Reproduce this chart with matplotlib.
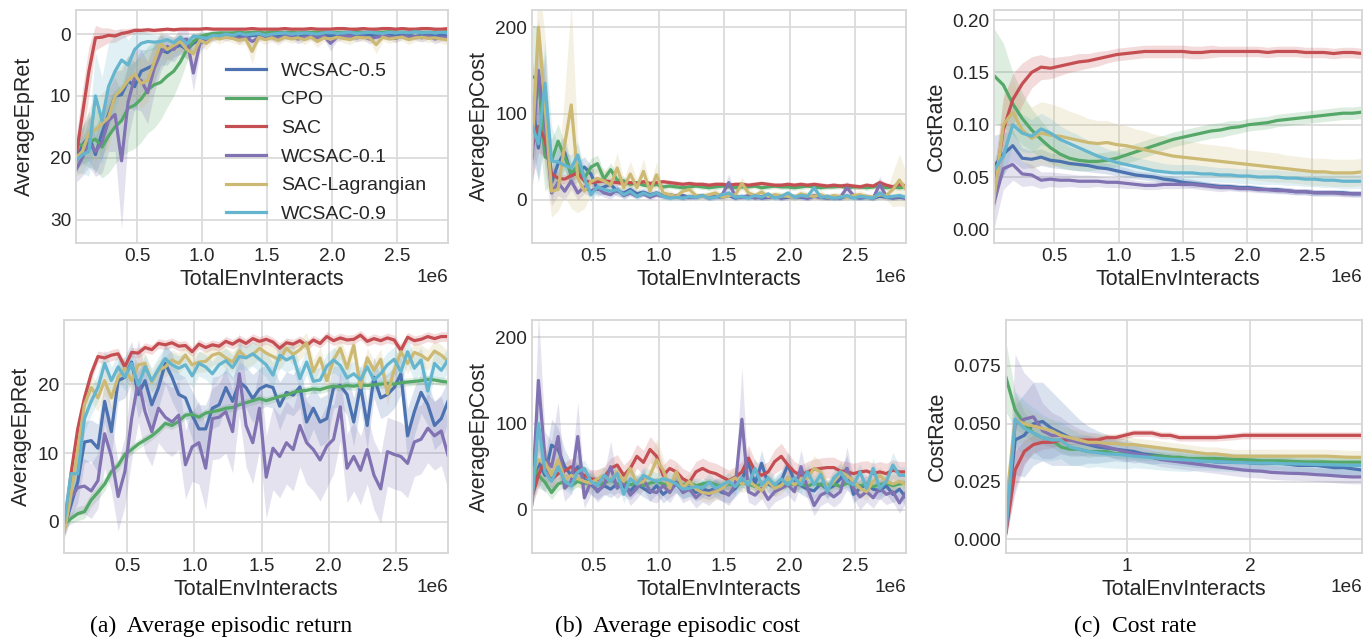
import numpy as np
import matplotlib
matplotlib.use("Agg")
import matplotlib.pyplot as plt
from matplotlib.ticker import FuncFormatter, FormatStrFormatter

# ---------------- data ----------------
labels = ["WCSAC-0.5", "CPO", "SAC", "WCSAC-0.1", "SAC-Lagrangian", "WCSAC-0.9"]
colors = ["#4C72B0", "#55A868", "#C44E52", "#8172B2", "#CCB974", "#64B5CD"]

# epoch grids (TotalEnvInteracts)
x_noisy = np.linspace(0.03e6, 2.89e6, 58)
x_rate_top = np.linspace(0.03e6, 2.89e6, 40)
x_rate_bot = np.linspace(0.02e6, 2.91e6, 40)

# ---- (a) top: AverageEpRet (values negative) ----
ret1_wc05 = [-20.5, -18, -16.5, -19.5, -16, -13, -10, -9.8, -7.5, -8.5,
             -6, -5.5, -5, -2.5, -3, -2.2, -1.8, -2.5, -1.5, -0.8,
             -0.6, -0.4, -0.3, -0.2, -0.4, -0.3, -0.6, -0.2, -0.3, -0.5,
             -0.2, -0.4, -0.3, -0.2, -0.5, -0.3, -0.2, -0.4, -0.2, -0.3,
             -0.1, -0.3, -0.2, -0.4, -0.1, -0.2, -0.3, -0.1, -0.2, -0.3,
             -0.1, -0.2, -0.4, -0.2, -0.1, -0.3, -0.2, -0.3]
ret1_cpo = [-17.8, -18, -17.5, -17, -18.3, -16.5, -15, -14, -12, -11.5,
            -10.5, -9, -8.2, -7.8, -6.8, -6, -4.5, -2.5, -1.2, -0.4,
            -0.1, 0.1, 0.2, 0.2, 0.2, 0.3, 0.2, 0.3, 0.3, 0.2,
            0.3, 0.3, 0.3, 0.3, 0.2, 0.3, 0.3, 0.3, 0.3, 0.3,
            0.3, 0.3, 0.3, 0.4, 0.3, 0.3, 0.3, 0.3, 0.4, 0.3,
            0.3, 0.3, 0.4, 0.3, 0.3, 0.3, 0.3, 0.4]
ret1_sac = [-20, -13, -6, -0.6, -0.5, -0.2, -0.3, 0.1, 0.3, 0.6,
            0.6, 0.7, 0.6, 0.7, 0.8, 0.7, 0.8, 0.8, 0.8, 0.8,
            0.9, 0.8, 0.8, 0.8, 0.8, 0.8, 0.8, 0.9, 0.8, 0.8,
            0.8, 0.8, 0.9, 0.8, 0.8, 0.8, 0.9, 0.8, 0.8, 0.8,
            0.9, 0.9, 0.8, 0.8, 0.9, 0.8, 0.8, 0.9, 0.9, 0.8,
            0.9, 0.8, 0.8, 0.9, 0.9, 0.8, 0.8, 0.9]
ret1_wc01 = [-22, -20, -17.5, -19, -17.5, -14, -13, -20.5, -11, -7,
             -7.5, -9.5, -5.5, -3, -2, -2.5, -1, -0.8, -6.3, -1.5,
             -0.8, -0.5, -0.3, -0.5, -0.3, -0.8, -0.4, -1.2, -0.6, -0.3,
             -0.5, -0.7, -0.4, -0.3, -0.8, -0.5, -0.4, -0.6, -0.3, -1.5,
             -0.5, -0.4, -0.3, -0.6, -0.4, -0.8, -0.5, -0.3, -0.4, -0.7,
             -0.3, -0.5, -0.4, -0.6, -0.3, -0.8, -0.5, -0.6]
ret1_sacl = [-20, -19, -16, -15.5, -14.5, -13.5, -10, -9, -7.5, -6.5,
             -8, -7.5, -4.5, -1.5, -2.5, -1.8, -1.2, -2.5, -3.2, -1,
             -1.5, -0.5, -0.8, -0.5, -0.7, -1.0, -0.8, -2.8, -0.5, -0.9,
             -0.6, -1.0, -0.5, -0.8, -0.6, -0.9, -0.5, -1.2, -0.6, -0.8,
             -0.5, -0.7, -0.9, -0.5, -0.6, -0.6, -1.7, -0.5, -0.8, -0.6,
             -0.5, -0.9, -0.6, -0.5, -0.7, -0.6, -0.8, -0.9]
ret1_wc09 = [-20.5, -19.5, -19, -10, -14, -8.5, -6, -4.2, -5, -2.5,
             -1.5, -1.2, -1.3, -1.2, -0.9, -1.4, -0.5, -1.6, -0.3, -0.5,
             -0.7, -0.2, -0.3, 0, -0.2, 0.1, -0.1, 0, 0.1, -0.2,
             0, 0.1, 0.2, 0, 0.1, 0.2, 0.1, 0, 0.2, 0.3,
             0.1, 0.2, 0.3, 0.1, 0.2, 0.3, 0.2, 0.1, 0.3, 0.2,
             0.3, 0.2, 0.4, 0.2, 0.3, 0.2, 0.3, 0.2]

ret1_wc05_sd = [1.5, 3, 4, 3, 4, 4, 4, 4, 4, 4,
                3.5, 3, 3, 2.5, 2, 1.5, 1.5, 1.5, 1.2, 1,
                0.8, 0.6, 0.5, 0.4, 0.5, 0.4, 0.6, 0.4, 0.4, 0.5,
                0.4, 0.5, 0.4, 0.4, 0.5, 0.4, 0.4, 0.5, 0.4, 0.4,
                0.4, 0.5, 0.4, 0.5, 0.4, 0.4, 0.5, 0.4, 0.4, 0.5,
                0.4, 0.4, 0.5, 0.4, 0.4, 0.5, 0.4, 0.4]
ret1_cpo_sd = [1, 3, 4, 5, 5, 6, 6, 6, 7, 7,
               7, 7, 7, 6, 5, 4, 3, 2, 1.2, 0.8,
               0.5, 0.4, 0.3, 0.3, 0.3, 0.3, 0.3, 0.3, 0.3, 0.3,
               0.3, 0.3, 0.3, 0.3, 0.3, 0.3, 0.3, 0.3, 0.3, 0.3,
               0.3, 0.3, 0.3, 0.3, 0.3, 0.3, 0.3, 0.3, 0.3, 0.3,
               0.3, 0.3, 0.3, 0.3, 0.3, 0.3, 0.3, 0.3]
ret1_sac_sd = [3, 4, 4, 2, 1.5, 1.2, 1, 0.8, 0.6, 0.5,
               0.4, 0.4, 0.3, 0.3, 0.3, 0.3, 0.3, 0.3, 0.3, 0.3,
               0.3, 0.3, 0.3, 0.3, 0.3, 0.3, 0.3, 0.3, 0.3, 0.3,
               0.3, 0.3, 0.3, 0.3, 0.3, 0.3, 0.3, 0.3, 0.3, 0.3,
               0.3, 0.3, 0.3, 0.3, 0.3, 0.3, 0.3, 0.3, 0.3, 0.3,
               0.3, 0.3, 0.3, 0.3, 0.3, 0.3, 0.3, 0.3]
ret1_wc01_sd = [2, 3, 4, 4, 5, 5, 6, 11, 6, 5,
                5, 5, 4, 3, 2, 2, 2, 2, 3, 1.5,
                0.8, 0.6, 0.5, 0.6, 0.5, 0.8, 0.5, 1.0, 0.6, 0.5,
                0.6, 0.7, 0.5, 0.5, 0.8, 0.6, 0.5, 0.7, 0.5, 1.2,
                0.6, 0.5, 0.5, 0.7, 0.5, 0.8, 0.6, 0.5, 0.5, 0.7,
                0.5, 0.6, 0.5, 0.7, 0.5, 0.8, 0.6, 0.7]
ret1_sacl_sd = [3, 3.5, 4, 5, 5, 5, 4, 4, 4, 4,
                4, 3.5, 3, 2, 2, 1.5, 1.5, 1.5, 2, 1,
                1, 0.7, 0.8, 0.6, 0.7, 0.8, 0.8, 2, 0.6, 0.8,
                0.6, 0.8, 0.6, 0.7, 0.6, 0.8, 0.6, 1.0, 0.6, 0.7,
                0.6, 0.7, 0.8, 0.6, 0.6, 0.6, 1.5, 0.6, 0.7, 0.6,
                0.6, 0.8, 0.6, 0.6, 0.7, 0.6, 0.7, 0.8]
ret1_wc09_sd = [2, 3, 4, 7, 7, 7, 6, 5, 4, 3,
                2, 1.5, 1.2, 1, 0.8, 0.8, 0.6, 0.8, 0.5, 0.5,
                0.5, 0.4, 0.4, 0.3, 0.3, 0.3, 0.3, 0.3, 0.3, 0.3,
                0.3, 0.3, 0.3, 0.3, 0.3, 0.3, 0.3, 0.3, 0.3, 0.3,
                0.3, 0.3, 0.3, 0.3, 0.3, 0.3, 0.3, 0.3, 0.3, 0.3,
                0.3, 0.3, 0.3, 0.3, 0.3, 0.3, 0.3, 0.3]

# ---- (a) bottom: AverageEpRet ----
ret2_wc05 = [-0.9, 2.5, 5.8, 11.6, 11.8, 10.7, 17.5, 13.1, 20.5, 21.0,
             23.2, 18.5, 20.5, 17.0, 19.5, 23.0, 21.0, 18.5, 18.0, 15.5,
             13.5, 13.5, 16.5, 17.0, 19.5, 17.5, 20.3, 19.5, 17.9, 19.3,
             19.8, 19.5, 16.8, 18.8, 18.4, 19.6, 14.5, 16.5, 14.5, 15.0,
             19.5, 19.8, 18.5, 14.5, 19.8, 14.0, 21.0, 18.0, 18.5, 19.5,
             21.5, 12.5, 16.0, 18.8, 17.0, 14.0, 15.0, 17.5]
ret2_cpo = [-0.3, 0.5, 1.2, 1.5, 3.2, 4.3, 5.5, 7.3, 8.2, 9.8,
            10.5, 11.3, 11.9, 12.5, 13.3, 14.3, 14.0, 14.6, 15.5, 15.6,
            15.2, 15.8, 16.0, 16.2, 16.5, 16.6, 17.0, 17.3, 17.6, 17.9,
            17.6, 17.9, 18.2, 18.4, 18.8, 19.0, 19.1, 19.3, 19.2, 19.5,
            19.7, 19.6, 19.8, 19.7, 19.9, 19.8, 19.9, 20.0, 20.1, 20.0,
            20.2, 20.3, 20.4, 20.5, 20.7, 20.6, 20.4, 20.3]
ret2_sac = [-1.0, 7, 13.5, 18, 21.5, 24, 23.8, 24.2, 24.4, 22.5,
            24.6, 24.5, 25.3, 25.0, 25.9, 25.7, 26.0, 25.5, 25.6, 24.7,
            25.8, 25.3, 25.7, 25.5, 26.2, 25.8, 26.4, 25.9, 26.6, 26.2,
            26.5, 26.1, 25.2, 26.0, 25.8, 26.3, 25.6, 26.4, 25.9, 26.9,
            26.3, 26.7, 26.4, 26.5, 27.1, 26.2, 26.6, 26.3, 26.7, 26.4,
            24.9, 26.8, 26.3, 26.5, 26.9, 26.6, 26.9, 26.9]
ret2_wc01 = [-0.9, 3.5, 5.0, 5.2, 4.5, 6.0, 12.8, 9.5, 3.7, 7.3,
             15.0, 20.5, 16.0, 13.1, 16.5, 15.2, 14.5, 15.5, 8.3, 10.9,
             11.5, 7.8, 15.0, 15.2, 16.0, 13.1, 21.5, 14.0, 11.5, 16.5,
             6.5, 10.7, 9.5, 11.5, 10.5, 14.0, 11.5, 10.5, 9.0, 11.0,
             12.0, 16.7, 7.8, 9.5, 7.5, 10.5, 6.8, 4.8, 10.2, 9.8,
             9.5, 8.5, 11.6, 12.0, 13.6, 12.5, 13.2, 9.7]
ret2_sacl = [-1.5, 4, 10.5, 17, 19.5, 18, 20.5, 18, 21, 22.3,
             20.5, 22.8, 23, 20.3, 22, 22.5, 23.5, 23, 24.2, 22.8,
             23.2, 23.3, 24.2, 24.5, 23.8, 23.2, 24.8, 23.9, 24.3, 25.2,
             24.5, 24.0, 23.5, 25.2, 24.3, 25.0, 26.0, 21.8, 23.8, 20.5,
             23.5, 25.2, 22.3, 25.6, 19.5, 23.8, 22.0, 23.6, 18.6, 22.0,
             24.7, 23.0, 24.6, 24.2, 23.5, 24.8, 24.2, 23.3]
ret2_wc09 = [0, 7, 7, 15, 17.5, 19.5, 23, 20.5, 22.5, 21,
             23, 19.8, 22.5, 20.5, 22.2, 23.7, 22.8, 22.3, 22.8, 21.2,
             23, 22.5, 21.5, 22.8, 23.4, 22.4, 24.0, 23.8, 24.4, 23.6,
             22.8, 21.3, 24.2, 23.5, 24.0, 20.8, 23.2, 20.4, 20.6, 22.6,
             23.5, 22.7, 20.9, 21.5, 20.6, 22.5, 20.6, 21.5, 22.8, 23.6,
             21.8, 24.7, 22.3, 23.5, 19.0, 23.0, 22.0, 23.5]

ret2_wc05_sd = [1, 2, 3, 3, 3, 3.5, 3, 3.5, 3, 3,
                3, 3.5, 3, 3.5, 3, 3, 3.5, 3, 3, 3.5,
                3.5, 3.5, 3, 3, 3, 3.5, 3, 3, 3.5, 3,
                3, 3, 3.5, 3, 3, 3, 3.5, 3, 3.5, 3.5,
                3, 3, 3, 3.5, 3, 3.5, 3, 3, 3, 3,
                3, 4, 3.5, 3, 3, 3.5, 3.5, 3]
ret2_cpo_sd = [0.5, 0.8, 1.0, 1.0, 1.0, 1.0, 1.0, 0.8, 0.8, 0.8,
               0.7, 0.7, 0.7, 0.6, 0.6, 0.6, 0.6, 0.6, 0.6, 0.6,
               0.6, 0.6, 0.6, 0.6, 0.6, 0.6, 0.6, 0.6, 0.6, 0.6,
               0.6, 0.6, 0.6, 0.6, 0.6, 0.6, 0.6, 0.6, 0.6, 0.6,
               0.6, 0.6, 0.6, 0.6, 0.6, 0.6, 0.6, 0.6, 0.6, 0.6,
               0.6, 0.6, 0.6, 0.6, 0.6, 0.6, 0.6, 0.6]
ret2_sac_sd = [0.8, 1.5, 1.5, 1.2, 1, 0.8, 0.8, 0.8, 0.8, 0.8,
               0.7, 0.7, 0.7, 0.7, 0.7, 0.7, 0.7, 0.7, 0.7, 0.7,
               0.7, 0.7, 0.7, 0.7, 0.7, 0.7, 0.7, 0.7, 0.7, 0.7,
               0.7, 0.7, 0.8, 0.7, 0.7, 0.7, 0.7, 0.7, 0.7, 0.7,
               0.7, 0.7, 0.7, 0.7, 0.7, 0.7, 0.7, 0.7, 0.7, 0.7,
               0.8, 0.7, 0.7, 0.7, 0.7, 0.7, 0.7, 0.7]
ret2_wc01_sd = [1.5, 3, 4, 4, 4, 4, 5, 5, 5, 5,
                6, 6, 6, 5, 5, 5, 5, 5, 5, 5,
                6, 6, 6, 6, 6, 6, 6, 6, 6, 6,
                6, 6, 6, 6, 6, 6, 6, 6, 6, 6,
                5, 5, 5, 5, 5, 5, 5, 5, 5, 5,
                5, 5, 5, 5, 5, 5, 5, 5]
ret2_sacl_sd = [0.8, 1.5, 2, 2, 2, 2, 2, 1.8, 1.8, 1.5,
                1.5, 1.5, 1.5, 1.5, 1.5, 1.5, 1.5, 1.5, 1.5, 1.5,
                1.5, 1.5, 1.5, 1.5, 1.5, 1.5, 1.5, 1.5, 1.5, 1.5,
                1.5, 1.5, 1.5, 1.5, 1.5, 1.5, 1.5, 1.8, 1.5, 1.8,
                1.5, 1.5, 1.8, 1.5, 1.8, 1.5, 1.5, 1.5, 1.8, 1.5,
                1.5, 1.5, 1.5, 1.5, 1.5, 1.5, 1.5, 1.5]
ret2_wc09_sd = [0.8, 2, 2, 2, 2, 2, 2, 2, 2, 2,
                1.8, 1.8, 1.8, 1.8, 1.8, 1.8, 1.8, 1.8, 1.8, 1.8,
                1.8, 1.8, 1.8, 1.8, 1.8, 1.8, 1.8, 1.8, 1.8, 1.8,
                1.8, 1.8, 1.8, 1.8, 1.8, 1.8, 1.8, 1.8, 1.8, 1.8,
                1.8, 1.8, 1.8, 1.8, 1.8, 1.8, 1.8, 1.8, 1.8, 1.8,
                1.8, 1.8, 1.8, 1.8, 2.0, 1.8, 1.8, 1.8]

# ---- (b) top: AverageEpCost ----
cost1_wc05 = [118, 60, 120, 20, 42, 55, 28, 33, 38, 30,
              12, 15, 18, 10, 8, 12, 7, 9, 6, 8,
              5, 6, 4, 5, 3, 4, 5, 3, 4, 3,
              5, 2, 4, 3, 4, 2, 3, 4, 2, 3,
              4, 3, 2, 4, 3, 2, 3, 2, 4, 3,
              2, 3, 2, 4, 3, 2, 3, 2]
cost1_cpo = [143, 140, 50, 45, 68, 50, 30, 40, 25, 38,
             42, 24, 35, 23, 22, 18, 20, 17, 16, 18,
             15, 16, 15, 14, 15, 16, 15, 14, 15, 16,
             15, 14, 15, 15, 16, 14, 15, 16, 15, 15,
             14, 15, 16, 15, 14, 15, 15, 16, 14, 15,
             15, 14, 15, 16, 14, 15, 14, 15]
cost1_sac = [60, 85, 70, 30, 25, 24, 28, 31, 22, 20,
             21, 22, 21, 20, 19, 20, 19, 21, 19, 20,
             21, 20, 19, 18, 19, 18, 18, 17, 18, 18,
             17, 18, 18, 17, 18, 19, 18, 17, 17, 18,
             17, 18, 17, 18, 17, 16, 17, 16, 17, 16,
             15, 17, 16, 20, 17, 15, 18, 16]
cost1_wc01 = [48, 150, 90, 8, 20, 10, 22, 8, 15, 10,
              14, 8, 6, 12, 5, 8, 4, 7, 3, 6,
              4, 3, 5, 2, 4, 3, 5, 2, 4, 6,
              20, 4, 3, 5, 2, 4, 3, 5, 2, 6,
              3, 4, 2, 5, 3, 4, 2, 3, 14, 5,
              3, 4, 2, 18, 4, 3, 4, 2]
cost1_sacl = [55, 200, 110, 10, 12, 64, 110, 25, 10, 21,
              25, 22, 17, 37, 14, 30, 14, 33, 10, 29,
              8, 6, 4, 10, 12, 5, 4, 6, 8, 3,
              5, 6, 19, 8, 5, 9, 4, 6, 5, 4,
              3, 7, 5, 4, 6, 3, 5, 4, 3, 5,
              6, 4, 3, 6, 5, 12, 23, 12]
cost1_wc09 = [87, 65, 135, 45, 44, 40, 37, 52, 25, 6,
              15, 12, 10, 12, 6, 10, 4, 8, 5, 8,
              4, 2, 3, 2, 4, 3, 5, 2, 3, 6,
              8, 3, 4, 2, 5, 3, 7, 2, 4, 8,
              3, 5, 4, 14, 3, 4, 2, 3, 5, 2,
              4, 3, 2, 8, 3, 4, 5, 3]

cost1_wc05_sd = [50, 40, 50, 20, 20, 20, 12, 12, 12, 10,
                 8, 8, 8, 6, 5, 6, 4, 5, 4, 4,
                 3, 3, 3, 3, 3, 3, 3, 3, 3, 3,
                 3, 3, 3, 3, 3, 3, 3, 3, 3, 3,
                 3, 3, 3, 3, 3, 3, 3, 3, 3, 3,
                 3, 3, 3, 3, 3, 3, 3, 3]
cost1_cpo_sd = [60, 60, 40, 25, 20, 15, 12, 12, 10, 10,
                10, 8, 8, 6, 5, 4, 3, 3, 3, 3,
                3, 3, 3, 3, 3, 3, 3, 3, 3, 3,
                3, 3, 3, 3, 3, 3, 3, 3, 3, 3,
                3, 3, 3, 3, 3, 3, 3, 3, 3, 3,
                3, 3, 3, 3, 3, 3, 3, 3]
cost1_sac_sd = [40, 30, 20, 10, 6, 5, 5, 5, 4, 4,
                3, 3, 3, 3, 3, 3, 3, 3, 3, 3,
                3, 3, 3, 3, 3, 3, 3, 3, 3, 3,
                3, 3, 3, 3, 3, 3, 3, 3, 3, 3,
                3, 3, 3, 3, 3, 3, 3, 3, 3, 3,
                3, 3, 3, 4, 3, 3, 3, 3]
cost1_wc01_sd = [40, 60, 50, 15, 15, 10, 10, 8, 8, 6,
                 6, 5, 5, 5, 4, 4, 3, 3, 3, 3,
                 3, 3, 3, 3, 3, 3, 3, 3, 3, 4,
                 10, 3, 3, 3, 3, 3, 3, 3, 3, 4,
                 3, 3, 3, 3, 3, 3, 3, 3, 8, 3,
                 3, 3, 3, 10, 3, 3, 3, 3]
cost1_sacl_sd = [30, 60, 80, 30, 25, 60, 120, 40, 20, 15,
                 12, 15, 12, 18, 10, 15, 10, 15, 8, 15,
                 6, 5, 4, 5, 6, 4, 4, 4, 5, 4,
                 4, 4, 8, 5, 4, 5, 4, 4, 4, 4,
                 4, 5, 4, 4, 5, 4, 4, 4, 4, 4,
                 5, 4, 4, 5, 5, 20, 30, 20]
cost1_wc09_sd = [40, 40, 50, 40, 20, 15, 15, 15, 10, 8,
                 8, 6, 6, 5, 5, 4, 4, 3, 3, 3,
                 3, 3, 3, 3, 3, 3, 3, 3, 3, 3,
                 3, 3, 3, 3, 3, 3, 3, 3, 3, 3,
                 3, 3, 3, 6, 3, 3, 3, 3, 3, 3,
                 3, 3, 3, 3, 3, 3, 3, 3]

# ---- (b) bottom: AverageEpCost ----
cost2_wc05 = [20, 55, 40, 75, 70, 50, 40, 50, 35, 30,
              22, 28, 24, 30, 27, 22, 30, 25, 20, 28,
              18, 24, 30, 22, 26, 20, 24, 22, 25, 20,
              18, 25, 35, 54, 30, 54, 30, 26, 34, 52,
              34, 28, 24, 22, 30, 24, 28, 36, 48, 18,
              25, 30, 24, 22, 28, 18, 24, 14]
cost2_cpo = [55, 40, 32, 20, 30, 33, 28, 33, 30, 33,
             29, 31, 35, 30, 33, 29, 32, 28, 31, 33,
             30, 28, 32, 29, 31, 28, 30, 32, 29, 27,
             30, 28, 31, 30, 27, 30, 32, 28, 27, 31,
             29, 30, 27, 31, 29, 28, 30, 27, 31, 29,
             28, 30, 27, 29, 31, 28, 30, 31]
cost2_sac = [14, 40, 58, 35, 42, 45, 50, 44, 40, 36,
             35, 38, 48, 52, 40, 48, 62, 55, 70, 62,
             40, 48, 44, 36, 32, 44, 48, 44, 42, 38,
             34, 38, 44, 60, 45, 40, 44, 56, 62, 52,
             44, 40, 44, 47, 48, 49, 49, 45, 44, 42,
             44, 45, 42, 44, 42, 46, 44, 44]
cost2_wc01 = [10, 150, 60, 50, 85, 25, 33, 85, 14, 33,
              21, 29, 50, 25, 32, 17, 25, 35, 22, 20,
              28, 20, 32, 20, 24, 14, 21, 17, 25, 22,
              17, 29, 105, 21, 17, 25, 12, 21, 25, 29,
              21, 50, 25, 5, 17, 21, 15, 21, 48, 25,
              15, 21, 14, 25, 18, 21, 8, 20]
cost2_sacl = [40, 58, 55, 40, 58, 35, 40, 36, 33, 31,
              36, 40, 33, 44, 33, 48, 30, 33, 40, 58,
              46, 25, 44, 26, 33, 24, 20, 19, 21, 25,
              33, 37, 30, 33, 28, 22, 33, 25, 28, 37,
              29, 35, 37, 48, 44, 25, 33, 44, 40, 33,
              25, 21, 33, 40, 33, 30, 33, 29]
cost2_wc09 = [6, 100, 44, 33, 50, 33, 28, 44, 48, 33,
              28, 40, 33, 42, 18, 36, 30, 40, 36, 33,
              36, 34, 30, 24, 25, 27, 25, 32, 25, 29,
              33, 27, 37, 29, 48, 29, 37, 29, 36, 29,
              37, 29, 44, 29, 41, 21, 37, 44, 33, 29,
              44, 25, 48, 25, 33, 52, 40, 40]

cost2_wc05_sd = [15, 25, 20, 30, 25, 20, 15, 15, 12, 12,
                 10, 10, 10, 10, 10, 10, 10, 10, 10, 10,
                 10, 10, 10, 10, 10, 10, 10, 10, 10, 10,
                 10, 10, 12, 15, 10, 15, 10, 10, 10, 15,
                 10, 10, 10, 10, 10, 10, 10, 10, 15, 10,
                 10, 10, 10, 10, 10, 10, 10, 10]
cost2_cpo_sd = [20, 15, 10, 8, 8, 6, 6, 6, 6, 6,
                5, 5, 5, 5, 5, 5, 5, 5, 5, 5,
                5, 5, 5, 5, 5, 5, 5, 5, 5, 5,
                5, 5, 5, 5, 5, 5, 5, 5, 5, 5,
                5, 5, 5, 5, 5, 5, 5, 5, 5, 5,
                5, 5, 5, 5, 5, 5, 5, 5]
cost2_sac_sd = [10, 15, 15, 10, 10, 10, 10, 10, 10, 10,
                12, 12, 12, 12, 12, 12, 14, 14, 15, 14,
                12, 12, 12, 12, 12, 12, 12, 12, 12, 12,
                12, 12, 12, 15, 12, 12, 12, 14, 15, 14,
                12, 12, 12, 12, 12, 12, 12, 12, 12, 12,
                12, 12, 12, 12, 12, 12, 12, 12]
cost2_wc01_sd = [10, 80, 30, 30, 40, 15, 15, 40, 12, 15,
                 12, 12, 30, 12, 12, 12, 12, 12, 12, 12,
                 12, 12, 12, 12, 12, 12, 12, 12, 12, 12,
                 12, 12, 60, 12, 12, 12, 12, 12, 12, 12,
                 12, 20, 12, 12, 12, 12, 12, 12, 25, 12,
                 15, 12, 12, 12, 12, 12, 12, 12]
cost2_sacl_sd = [15, 20, 20, 15, 20, 12, 12, 10, 10, 10,
                 10, 10, 10, 10, 10, 12, 10, 10, 15, 25,
                 15, 10, 10, 10, 10, 10, 10, 10, 10, 10,
                 10, 10, 10, 10, 10, 10, 10, 10, 10, 10,
                 10, 10, 12, 15, 12, 10, 10, 12, 10, 10,
                 10, 10, 10, 10, 10, 10, 10, 10]
cost2_wc09_sd = [10, 30, 15, 12, 15, 10, 10, 10, 10, 10,
                 10, 10, 10, 10, 10, 10, 10, 10, 10, 10,
                 10, 10, 10, 10, 10, 10, 10, 10, 10, 10,
                 10, 10, 10, 10, 12, 10, 10, 10, 10, 10,
                 10, 10, 10, 10, 10, 10, 10, 10, 10, 10,
                 10, 10, 12, 10, 10, 15, 10, 10]

# ---- (c) top: CostRate ----
rate1_wc05 = [0.060, 0.072, 0.080, 0.068, 0.067, 0.069, 0.066, 0.065, 0.063, 0.062,
              0.061, 0.059, 0.058, 0.056, 0.054, 0.052, 0.051, 0.050, 0.048, 0.047,
              0.045, 0.044, 0.043, 0.042, 0.041, 0.041, 0.040, 0.040, 0.039, 0.038,
              0.038, 0.037, 0.036, 0.036, 0.035, 0.035, 0.035, 0.035, 0.034, 0.034]
rate1_cpo = [0.147, 0.138, 0.120, 0.106, 0.095, 0.086, 0.078, 0.072, 0.068, 0.066,
             0.065, 0.065, 0.066, 0.068, 0.071, 0.074, 0.077, 0.080, 0.083, 0.086,
             0.088, 0.090, 0.092, 0.094, 0.095, 0.097, 0.098, 0.100, 0.101, 0.102,
             0.104, 0.105, 0.106, 0.107, 0.108, 0.109, 0.110, 0.111, 0.111, 0.112]
rate1_sac = [0.035, 0.095, 0.124, 0.139, 0.150, 0.155, 0.154, 0.156, 0.158, 0.160,
             0.161, 0.163, 0.165, 0.167, 0.168, 0.169, 0.170, 0.170, 0.170, 0.170,
             0.170, 0.169, 0.169, 0.170, 0.170, 0.170, 0.170, 0.170, 0.170, 0.169,
             0.170, 0.170, 0.170, 0.169, 0.169, 0.169, 0.168, 0.169, 0.169, 0.168]
rate1_wc01 = [0.025, 0.058, 0.062, 0.053, 0.052, 0.047, 0.048, 0.047, 0.047, 0.046,
              0.046, 0.046, 0.045, 0.045, 0.044, 0.043, 0.042, 0.042, 0.043, 0.043,
              0.043, 0.043, 0.042, 0.041, 0.040, 0.040, 0.039, 0.039, 0.038, 0.038,
              0.037, 0.037, 0.036, 0.036, 0.035, 0.035, 0.035, 0.034, 0.034, 0.034]
rate1_sacl = [0.028, 0.100, 0.112, 0.095, 0.087, 0.092, 0.090, 0.089, 0.087, 0.085,
              0.083, 0.082, 0.083, 0.081, 0.080, 0.078, 0.076, 0.074, 0.072, 0.070,
              0.069, 0.068, 0.067, 0.066, 0.065, 0.064, 0.063, 0.062, 0.061, 0.060,
              0.059, 0.058, 0.057, 0.056, 0.055, 0.055, 0.054, 0.054, 0.054, 0.055]
rate1_wc09 = [0.056, 0.070, 0.100, 0.092, 0.089, 0.096, 0.092, 0.086, 0.082, 0.078,
              0.074, 0.070, 0.067, 0.064, 0.062, 0.060, 0.058, 0.056, 0.055, 0.054,
              0.054, 0.054, 0.053, 0.053, 0.052, 0.052, 0.051, 0.051, 0.050, 0.050,
              0.050, 0.049, 0.049, 0.048, 0.048, 0.047, 0.047, 0.046, 0.046, 0.046]

rate1_wc05_sd = [0.030, 0.020, 0.015, 0.010, 0.008, 0.008, 0.007, 0.007, 0.006, 0.006,
                 0.006, 0.005, 0.005, 0.005, 0.005, 0.004, 0.004, 0.004, 0.004, 0.004,
                 0.004, 0.004, 0.003, 0.003, 0.003, 0.003, 0.003, 0.003, 0.003, 0.003,
                 0.003, 0.003, 0.003, 0.003, 0.003, 0.003, 0.003, 0.003, 0.003, 0.003]
rate1_cpo_sd = [0.045, 0.040, 0.030, 0.025, 0.020, 0.018, 0.015, 0.013, 0.011, 0.010,
                0.009, 0.008, 0.008, 0.008, 0.008, 0.008, 0.008, 0.008, 0.007, 0.007,
                0.007, 0.007, 0.007, 0.007, 0.007, 0.007, 0.006, 0.006, 0.006, 0.006,
                0.006, 0.006, 0.006, 0.006, 0.006, 0.006, 0.006, 0.006, 0.006, 0.006]
rate1_sac_sd = [0.020, 0.030, 0.025, 0.020, 0.015, 0.012, 0.010, 0.009, 0.008, 0.008,
                0.007, 0.007, 0.006, 0.006, 0.006, 0.006, 0.006, 0.006, 0.006, 0.006,
                0.006, 0.006, 0.006, 0.006, 0.005, 0.005, 0.005, 0.005, 0.005, 0.005,
                0.005, 0.005, 0.005, 0.005, 0.005, 0.005, 0.005, 0.005, 0.005, 0.005]
rate1_wc01_sd = [0.025, 0.020, 0.015, 0.012, 0.010, 0.008, 0.007, 0.007, 0.006, 0.006,
                 0.006, 0.005, 0.005, 0.005, 0.005, 0.004, 0.004, 0.004, 0.004, 0.004,
                 0.004, 0.004, 0.004, 0.004, 0.004, 0.003, 0.003, 0.003, 0.003, 0.003,
                 0.003, 0.003, 0.003, 0.003, 0.003, 0.003, 0.003, 0.003, 0.003, 0.003]
rate1_sacl_sd = [0.010, 0.030, 0.030, 0.030, 0.030, 0.030, 0.030, 0.028, 0.026, 0.025,
                 0.023, 0.022, 0.021, 0.020, 0.019, 0.018, 0.018, 0.017, 0.017, 0.016,
                 0.016, 0.016, 0.015, 0.015, 0.015, 0.015, 0.014, 0.014, 0.014, 0.014,
                 0.014, 0.013, 0.013, 0.013, 0.013, 0.013, 0.013, 0.013, 0.013, 0.013]
rate1_wc09_sd = [0.010, 0.020, 0.020, 0.018, 0.016, 0.015, 0.014, 0.013, 0.012, 0.012,
                 0.011, 0.011, 0.010, 0.010, 0.010, 0.009, 0.009, 0.009, 0.008, 0.008,
                 0.008, 0.008, 0.008, 0.007, 0.007, 0.007, 0.007, 0.007, 0.007, 0.007,
                 0.007, 0.007, 0.007, 0.007, 0.007, 0.007, 0.007, 0.007, 0.007, 0.007]

# ---- (c) bottom: CostRate ----
rate2_wc05 = [0.004, 0.043, 0.045, 0.050, 0.051, 0.048, 0.046, 0.044, 0.042, 0.041,
              0.040, 0.0395, 0.039, 0.0385, 0.038, 0.037, 0.0365, 0.036, 0.0355, 0.035,
              0.0345, 0.034, 0.034, 0.0335, 0.0335, 0.0335, 0.0335, 0.033, 0.033, 0.033,
              0.033, 0.0325, 0.032, 0.032, 0.032, 0.0315, 0.031, 0.031, 0.0305, 0.030]
rate2_cpo = [0.070, 0.056, 0.050, 0.046, 0.044, 0.043, 0.040, 0.039, 0.039, 0.038,
             0.038, 0.038, 0.037, 0.037, 0.0365, 0.036, 0.036, 0.036, 0.0355, 0.0355,
             0.035, 0.035, 0.035, 0.035, 0.0348, 0.0346, 0.0345, 0.0343, 0.034, 0.034,
             0.034, 0.0338, 0.0336, 0.0335, 0.0335, 0.0335, 0.0334, 0.0334, 0.0334, 0.0334]
rate2_sac = [0.003, 0.030, 0.038, 0.041, 0.042, 0.042, 0.043, 0.043, 0.043, 0.043,
             0.043, 0.044, 0.044, 0.045, 0.046, 0.046, 0.046, 0.045, 0.045, 0.044,
             0.044, 0.044, 0.044, 0.044, 0.0443, 0.0446, 0.045, 0.045, 0.045, 0.045,
             0.045, 0.045, 0.045, 0.045, 0.045, 0.045, 0.045, 0.045, 0.045, 0.045]
rate2_wc01 = [0.004, 0.050, 0.052, 0.053, 0.047, 0.045, 0.045, 0.043, 0.042, 0.0415,
              0.041, 0.040, 0.039, 0.038, 0.037, 0.0365, 0.0355, 0.0345, 0.034, 0.0335,
              0.033, 0.0325, 0.032, 0.0315, 0.031, 0.0305, 0.030, 0.0297, 0.0295, 0.029,
              0.0288, 0.0286, 0.0285, 0.0283, 0.028, 0.0278, 0.0275, 0.0272, 0.027, 0.027]
rate2_sacl = [0.014, 0.052, 0.050, 0.049, 0.048, 0.047, 0.045, 0.044, 0.043, 0.042,
              0.042, 0.0415, 0.0415, 0.041, 0.041, 0.0405, 0.040, 0.0395, 0.039, 0.0385,
              0.038, 0.0375, 0.037, 0.037, 0.0365, 0.036, 0.036, 0.036, 0.036, 0.036,
              0.036, 0.036, 0.036, 0.036, 0.036, 0.036, 0.0358, 0.0356, 0.0355, 0.0355]
rate2_wc09 = [0.004, 0.052, 0.048, 0.046, 0.044, 0.043, 0.043, 0.040, 0.039, 0.038,
              0.0375, 0.037, 0.0368, 0.0365, 0.036, 0.0357, 0.0354, 0.035, 0.0347, 0.0345,
              0.0343, 0.034, 0.0338, 0.0336, 0.0335, 0.0333, 0.0332, 0.033, 0.033, 0.033,
              0.0328, 0.0327, 0.0326, 0.0325, 0.0324, 0.0323, 0.0322, 0.0321, 0.032, 0.032]

rate2_wc05_sd = [0.004, 0.015, 0.018, 0.018, 0.017, 0.016, 0.014, 0.012, 0.010, 0.008,
                 0.007, 0.006, 0.005, 0.005, 0.004, 0.004, 0.004, 0.003, 0.003, 0.003,
                 0.003, 0.003, 0.003, 0.003, 0.003, 0.003, 0.003, 0.003, 0.003, 0.003,
                 0.003, 0.003, 0.003, 0.003, 0.003, 0.003, 0.003, 0.003, 0.003, 0.003]
rate2_cpo_sd = [0.015, 0.008, 0.005, 0.004, 0.003, 0.003, 0.0025, 0.0025, 0.0025, 0.0025,
                0.002, 0.002, 0.002, 0.002, 0.002, 0.002, 0.002, 0.002, 0.002, 0.002,
                0.002, 0.002, 0.002, 0.002, 0.002, 0.002, 0.002, 0.002, 0.002, 0.002,
                0.002, 0.002, 0.002, 0.002, 0.002, 0.002, 0.002, 0.002, 0.002, 0.002]
rate2_sac_sd = [0.003, 0.008, 0.005, 0.004, 0.003, 0.0025, 0.002, 0.002, 0.002, 0.002,
                0.0015, 0.0015, 0.0015, 0.0015, 0.0015, 0.0015, 0.0015, 0.0015, 0.0015, 0.0015,
                0.0015, 0.0015, 0.0015, 0.0015, 0.0015, 0.0015, 0.0015, 0.0015, 0.0015, 0.0015,
                0.0015, 0.0015, 0.0015, 0.0015, 0.0015, 0.0015, 0.0015, 0.0015, 0.0015, 0.0015]
rate2_wc01_sd = [0.004, 0.030, 0.020, 0.015, 0.012, 0.010, 0.008, 0.007, 0.006, 0.005,
                 0.005, 0.004, 0.004, 0.004, 0.004, 0.003, 0.003, 0.003, 0.003, 0.003,
                 0.003, 0.003, 0.003, 0.003, 0.003, 0.003, 0.003, 0.003, 0.003, 0.003,
                 0.003, 0.003, 0.003, 0.003, 0.003, 0.003, 0.003, 0.003, 0.003, 0.003]
rate2_sacl_sd = [0.010, 0.010, 0.008, 0.006, 0.005, 0.005, 0.004, 0.004, 0.004, 0.004,
                 0.004, 0.004, 0.004, 0.004, 0.003, 0.003, 0.003, 0.003, 0.003, 0.003,
                 0.003, 0.003, 0.003, 0.003, 0.003, 0.003, 0.003, 0.003, 0.003, 0.003,
                 0.003, 0.003, 0.003, 0.003, 0.003, 0.003, 0.003, 0.003, 0.003, 0.003]
rate2_wc09_sd = [0.004, 0.012, 0.012, 0.011, 0.010, 0.009, 0.008, 0.008, 0.007, 0.007,
                 0.006, 0.006, 0.006, 0.006, 0.005, 0.005, 0.005, 0.005, 0.005, 0.005,
                 0.005, 0.004, 0.004, 0.004, 0.004, 0.004, 0.004, 0.004, 0.004, 0.004,
                 0.004, 0.004, 0.004, 0.004, 0.004, 0.004, 0.004, 0.004, 0.004, 0.004]

captions = ["(a)  Average episodic return", "(b)  Average episodic cost", "(c)  Cost rate"]

# ---------------- style ----------------
plt.rcParams.update({
    "font.family": ["Liberation Sans", "DejaVu Sans"],
    "axes.edgecolor": "0.84",
    "axes.linewidth": 1.3,
    "axes.facecolor": "white",
    "grid.color": "0.86",
    "grid.linewidth": 1.3,
    "xtick.major.size": 0,
    "ytick.major.size": 0,
    "xtick.color": "0.15",
    "ytick.color": "0.15",
    "text.color": "0.15",
    "axes.labelcolor": "0.15",
    "xtick.labelsize": 13.7,
    "ytick.labelsize": 13.7,
    "axes.labelsize": 15.5,
})

fig = plt.figure(figsize=(13.67, 6.37), dpi=100)
W, H = 1367.0, 637.0


def add_axes(x0, x1, y0, y1):
    return fig.add_axes([x0 / W, 1 - y1 / H, (x1 - x0) / W, (y1 - y0) / H])


def draw(ax, x, means, sds):
    for m, s, c, lab in zip(means, sds, colors, labels):
        m = np.asarray(m, float)
        s = np.asarray(s, float)
        ax.fill_between(x, m - s, m + s, color=c, alpha=0.2, linewidth=0)
        ax.plot(x, m, color=c, lw=2.3, label=lab)


def finish(ax, ylabel, xlim, ypad=4):
    ax.set_xlim(*xlim)
    ax.grid(True)
    ax.set_axisbelow(True)
    ax.set_xlabel("TotalEnvInteracts", labelpad=3)
    ax.set_ylabel(ylabel, labelpad=ypad)
    for sp in ax.spines.values():
        sp.set_color("0.84")


ax1 = add_axes(76, 448, 10, 243)
draw(ax1, x_noisy,
     [ret1_wc05, ret1_cpo, ret1_sac, ret1_wc01, ret1_sacl, ret1_wc09],
     [ret1_wc05_sd, ret1_cpo_sd, ret1_sac_sd, ret1_wc01_sd, ret1_sacl_sd, ret1_wc09_sd])
finish(ax1, "AverageEpRet", (0.031e6, 2.89e6), ypad=11)
ax1.set_ylim(-33.8, 3.9)
ax1.set_yticks([0, -10, -20, -30])
ax1.yaxis.set_major_formatter(FuncFormatter(lambda v, p: f"{abs(v):g}"))
ax1.set_xticks([0.5e6, 1.0e6, 1.5e6, 2.0e6, 2.5e6])
ax1.legend(loc="center left", bbox_to_anchor=(0.403, 0.431), frameon=False,
           borderaxespad=0, borderpad=0, handlelength=2.05, handletextpad=0.8,
           labelspacing=0.57, fontsize=14)

ax2 = add_axes(532, 906, 10, 243)
draw(ax2, x_noisy,
     [cost1_wc05, cost1_cpo, cost1_sac, cost1_wc01, cost1_sacl, cost1_wc09],
     [cost1_wc05_sd, cost1_cpo_sd, cost1_sac_sd, cost1_wc01_sd, cost1_sacl_sd, cost1_wc09_sd])
finish(ax2, "AverageEpCost", (0.031e6, 2.89e6))
ax2.set_ylim(-50, 220)
ax2.set_yticks([0, 100, 200])
ax2.set_xticks([0.5e6, 1.0e6, 1.5e6, 2.0e6, 2.5e6])

ax3 = add_axes(994, 1362, 10, 243)
draw(ax3, x_rate_top,
     [rate1_wc05, rate1_cpo, rate1_sac, rate1_wc01, rate1_sacl, rate1_wc09],
     [rate1_wc05_sd, rate1_cpo_sd, rate1_sac_sd, rate1_wc01_sd, rate1_sacl_sd, rate1_wc09_sd])
finish(ax3, "CostRate", (0.031e6, 2.89e6))
ax3.set_ylim(-0.013, 0.2096)
ax3.set_yticks([0, 0.05, 0.10, 0.15, 0.20])
ax3.yaxis.set_major_formatter(FormatStrFormatter("%.2f"))
ax3.set_xticks([0.5e6, 1.0e6, 1.5e6, 2.0e6, 2.5e6])

ax4 = add_axes(64, 448, 320, 553)
draw(ax4, x_noisy,
     [ret2_wc05, ret2_cpo, ret2_sac, ret2_wc01, ret2_sacl, ret2_wc09],
     [ret2_wc05_sd, ret2_cpo_sd, ret2_sac_sd, ret2_wc01_sd, ret2_sacl_sd, ret2_wc09_sd])
finish(ax4, "AverageEpRet", (0.028e6, 2.89e6))
ax4.set_ylim(-4.5, 29.3)
ax4.set_yticks([0, 10, 20])
ax4.set_xticks([0.5e6, 1.0e6, 1.5e6, 2.0e6, 2.5e6])

ax5 = add_axes(532, 906, 320, 553)
draw(ax5, x_noisy,
     [cost2_wc05, cost2_cpo, cost2_sac, cost2_wc01, cost2_sacl, cost2_wc09],
     [cost2_wc05_sd, cost2_cpo_sd, cost2_sac_sd, cost2_wc01_sd, cost2_sacl_sd, cost2_wc09_sd])
finish(ax5, "AverageEpCost", (0.031e6, 2.89e6))
ax5.set_ylim(-50, 220)
ax5.set_yticks([0, 100, 200])
ax5.set_xticks([0.5e6, 1.0e6, 1.5e6, 2.0e6, 2.5e6])

ax6 = add_axes(1006, 1362, 320, 553)
draw(ax6, x_rate_bot,
     [rate2_wc05, rate2_cpo, rate2_sac, rate2_wc01, rate2_sacl, rate2_wc09],
     [rate2_wc05_sd, rate2_cpo_sd, rate2_sac_sd, rate2_wc01_sd, rate2_sacl_sd, rate2_wc09_sd])
finish(ax6, "CostRate", (0.02e6, 2.91e6))
ax6.set_ylim(-0.0059, 0.0949)
ax6.set_yticks([0, 0.025, 0.05, 0.075])
ax6.yaxis.set_major_formatter(FormatStrFormatter("%.3f"))
ax6.set_xticks([1e6, 2e6])

for cx, txt in zip([221, 678, 1135], captions):
    fig.text(cx / W, (H - 632) / H, txt, ha="center", va="baseline",
             family=["Liberation Serif", "DejaVu Serif"], fontsize=17, color="black")

fig.savefig("out.png", dpi=100)
